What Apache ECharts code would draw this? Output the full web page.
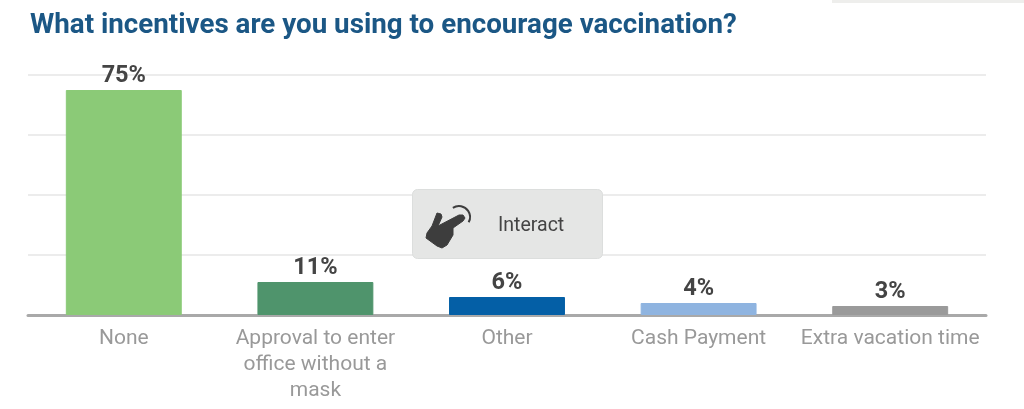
<!DOCTYPE html>
<html><head><meta charset="utf-8">
<style>html,body{margin:0;padding:0;background:#fff}#c{width:1024px;height:409px}</style>
<script src="https://cdn.jsdelivr.net/npm/echarts@6/dist/echarts.min.js"></script>
</head><body><div id="c"></div>
<script>
const titleText = 'What incentives are you using to encourage vaccination?';
const categories = ['None', 'Approval to enter\noffice without a\nmask', 'Other', 'Cash Payment', 'Extra vacation time'];
const values = [75, 11, 6, 4, 3];
const barColors = ['#8bca77', '#4f946c', '#045fa6', '#8fb4e0', '#9a9a9a'];
const yTicks = {min: 0, max: 80, interval: 20};
const handPoints = [[437,213],[441,214],[442,217],[438,226],[459,215],[463,215],[465,218],[463,221],[453,228],[453,235],[447,245],[442,248],[437,246],[426,238],[427,233],[432,226]];
const chart = echarts.init(document.getElementById('c'), null, {renderer: 'canvas'});
chart.setOption({
  animation: false,
  backgroundColor: '#fff',
  title: {text: titleText, left: 25, top: 7,
    textStyle: {fontFamily: 'Roboto', fontWeight: 'bold', fontSize: 27.75, color: '#1b5785'}},
  grid: {left: 28, right: 38, top: 75, bottom: 94},
  xAxis: {type: 'category', data: categories,
    axisLine: {lineStyle: {color: '#a9a9a9', width: 3}},
    axisTick: {show: false},
    axisLabel: {interval: 0, fontFamily: 'Roboto', fontSize: 21, color: '#999', lineHeight: 26, margin: 11}},
  yAxis: {type: 'value', min: yTicks.min, max: yTicks.max, interval: yTicks.interval,
    axisLabel: {show: false}, axisLine: {show: false}, axisTick: {show: false},
    splitLine: {lineStyle: {color: '#ececec', width: 2}}},
  series: [{type: 'bar', barWidth: '60.5%',
    data: values.map((v, i) => ({value: v, itemStyle: {color: barColors[i], borderColor: barColors[i], borderWidth: 1}})),
    label: {show: true, position: 'top', distance: 2, formatter: '{c}%',
      fontFamily: 'Roboto', fontWeight: 'bold', fontSize: 23.5, color: '#444'}}],
  graphic: [
    {type: 'rect', z: 10, shape: {x: 832, y: 0, width: 192, height: 3}, style: {fill: '#eeeeec'}},
    {type: 'rect', z: 10, shape: {x: 412.5, y: 189.5, width: 190, height: 69, r: 5},
      style: {fill: '#e5e6e5', stroke: '#dcdedd', lineWidth: 1}},
    {type: 'polygon', z: 11, shape: {points: handPoints}, style: {fill: '#3d3d3d', stroke: '#3d3d3d', lineWidth: 1, lineJoin: 'round'}},
    {type: 'arc', z: 11, shape: {cx: 459, cy: 217, r: 11, startAngle: -2.16, endAngle: 0.5},
      style: {stroke: '#3d3d3d', lineWidth: 2, fill: 'none'}},
    {type: 'text', z: 11, x: 498, y: 216,
      style: {text: 'Interact', fontFamily: 'Roboto', fontSize: 19.5, fill: '#444'}}
  ]
});
</script></body></html>
